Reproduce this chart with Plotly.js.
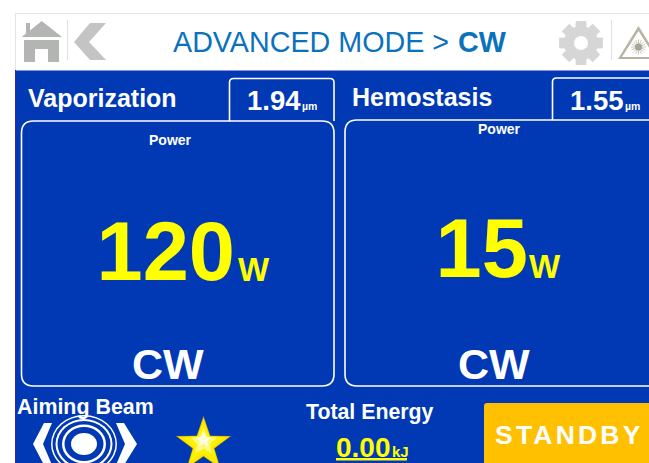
<!DOCTYPE html>
<html><head><meta charset="utf-8">
<script src="https://cdn.plot.ly/plotly-3.0.1.min.js"></script>
<style>
html,body{margin:0;padding:0;background:#fff;overflow:hidden}
#chart{width:649px;height:463px}
</style></head><body><div id="chart"></div>
<script>
// Chart content
const modeLabels = ["Vaporization", "Hemostasis"];
const powerValues = [120, 15];
const powerUnit = "W";
const wavelengths = ["1.94", "1.55"];
const wavelengthUnit = "µm";
const pulseModes = ["CW", "CW"];
const titleParts = ["ADVANCED MODE > ", "CW"];
const energyValue = "0.00";
const energyUnit = "kJ";
const buttonLabel = "STANDBY";

const FONT = '"Liberation Sans", Arial, sans-serif';
const BLUE = '#0039b3', WHITE = '#ffffff', YELLOW = '#ffff00';

const shapes = [];
const path = (d, fill, line, w) => shapes.push({type:'path', layer:'below', xref:'x', yref:'y', path:d,
  fillcolor: fill || 'rgba(0,0,0,0)', line:{color: line || 'rgba(0,0,0,0)', width: w || 0}});
const rect = (x0,y0,x1,y1,fill) => shapes.push({type:'rect', layer:'below', xref:'x', yref:'y', x0,y0,x1,y1, fillcolor:fill, line:{width:0}});
const ell = (cx,cy,rx,ry,fill) => shapes.push({type:'circle', layer:'below', xref:'x', yref:'y', x0:cx-rx,x1:cx+rx,y0:cy-ry,y1:cy+ry, fillcolor:fill, line:{width:0}});
const round = (x0,y0,x1,y1,r) => `M${x0+r},${y0} L${x1-r},${y0} Q${x1},${y0} ${x1},${y0+r} L${x1},${y1-r} Q${x1},${y1} ${x1-r},${y1} L${x0+r},${y1} Q${x0},${y1} ${x0},${y1-r} L${x0},${y0+r} Q${x0},${y0} ${x0+r},${y0} Z`;
const tab = (x0,y0,x1,y1,r) => `M${x0},${y1} L${x0},${y0+r} Q${x0},${y0} ${x0+r},${y0} L${x1-r},${y0} Q${x1},${y0} ${x1},${y0+r} L${x1},${y1}`;

// header and body
rect(15,13,649,70,'#ffffff');
rect(15,13,649,14,'#e4e4e4');
rect(15,13,16,70,'#e4e4e4');
rect(15,70,649,463,BLUE);
rect(15,70,649,71,'#8f8fe0');
rect(15,70,16,463,'#2a2ab5');

// home icon
path('M41.7,21 L62,37 L21.7,37 L26,33.6 L26,23 L30,23 L30,30.5 Z','#b3b5b3');
path('M24,40 L59,40 L59,62 L48,62 L48,49 L35,49 L35,62 L24,62 Z','#b3b5b3');
rect(67,20,68,60,'#e2e2e2');
path('M90,23 L106,23 L89,42 L106,60 L90,60 L74,42 Z','#c4c4c4');

// gear icon
(function(){
  const cx=581, cy=43, teeth=8; let d='';
  for(let i=0;i<teeth;i++){
    const a=i*2*Math.PI/teeth, s=0.24, t=0.33;
    const pts=[[17,a-t],[22.5,a-s],[22.5,a+s],[17,a+t]];
    pts.forEach((p,j)=>{d+=(i===0&&j===0?'M':'L')+(cx+p[0]*Math.sin(p[1])).toFixed(1)+','+(cy-p[0]*Math.cos(p[1])).toFixed(1)+' ';});
  }
  path(d+'Z','#d6d6d6');
  ell(cx,cy,7,7,'#ffffff');
})();
rect(611,20,612,60,'#e2e2e2');

// laser warning icon
path('M638.5,26 L659,59 L618,59 Z','#b8b3a5');
path('M638.5,31 L655,57 L622,57 Z','#ffffff');
(function(){
  const cx=638.5, cy=47; let d='';
  for(let i=0;i<16;i++){
    const a=i*Math.PI/8;
    d+=`M${(cx+3*Math.cos(a)).toFixed(1)},${(cy+3*Math.sin(a)).toFixed(1)} L${(cx+7.5*Math.cos(a)).toFixed(1)},${(cy+7.5*Math.sin(a)).toFixed(1)} `;
  }
  path(d,null,'#bdb9ac',0.8);
  ell(cx,cy,3.6,3.6,'#a8a496');
})();

// panels
const PW = 1.6;
path(tab(229.5,78.5,334,121,4),null,WHITE,PW);
path(round(21.5,121,334,386,12),null,WHITE,PW);
path(tab(552.5,78,690,120,4),null,WHITE,PW);
path(round(345,120,690,386,12),null,WHITE,PW);

// aiming beam
[[33,29,WHITE],[31.5,27.5,BLUE],[28.5,25,WHITE],[26.5,23,BLUE],[22,19.5,WHITE],[19.5,17,BLUE],[13,11,WHITE]].forEach(e=>ell(84,444,e[0],e[1],e[2]));
path('M44,423 L52,423 L43,444 L52,465 L44,465 L33,444 Z',WHITE);
path('M124,423 L116,423 L125,444 L116,465 L124,465 L137,444 Z',WHITE);

// star
(function(){
  const star=(cx,cy,R,r)=>{let d='';for(let i=0;i<10;i++){const a=i*Math.PI/5,q=i%2?r:R;d+=(i?'L':'M')+(cx+q*Math.sin(a)).toFixed(1)+','+(cy-q*Math.cos(a)).toFixed(1)+' ';}return d+'Z';};
  path(star(203.5,445,29,11.5),'#caa900');
  path(star(203.5,445,27,10.8),'#ffe600');
  path(star(203.5,444,22,9.5),'#fff200');
  path(star(203.5,442,14,6.5),'#fff980');
  path(star(203.5,440,8,4),'#fffdd8');
})();

// standby button
path(round(484,403,670,480,3),'#ffc000');

// underline for energy
rect(336,458,407,460.5,YELLOW);

// text
const annotations = [];
const T = (text,x,y,size,color,anchor,bold) => annotations.push({
  text: bold===false?text:`<b>${text}</b>`, x, y, xref:'x', yref:'y', showarrow:false,
  xanchor:anchor||'center', yanchor:'middle', align:'left',
  font:{family:FONT,size,color}, borderpad:0, borderwidth:0});

T(titleParts[0],173,42,28.7,'#0a72bd','left',false);
T(titleParts[1],458,42,28.7,'#0a72bd','left');

T(modeLabels[0],28,97.5,25,WHITE,'left');
T(modeLabels[1],352,97,25,WHITE,'left');
T(wavelengths[0],247,100.5,27.5,WHITE,'left');
T(wavelengthUnit,301.5,106,10.5,WHITE,'left');
T(wavelengths[1],570,100.5,27.5,WHITE,'left');
T(wavelengthUnit,624.5,106,10.5,WHITE,'left');
T('Power',170,139.5,14,WHITE);
T('Power',499.5,129,14,WHITE);
T(powerUnit,238,269,33,YELLOW,'left');
T(powerUnit,529,266,33,YELLOW,'left');
T(pulseModes[0],167.5,364,43,WHITE);
T(pulseModes[1],493.5,364,43,WHITE);
T('Aiming Beam',17,407,21.4,WHITE,'left');
T('Total Energy',306,411.5,21.3,WHITE,'left');
T(energyValue,336,447,28,YELLOW,'left');
T(energyUnit,392,451,15,YELLOW,'left');
T(buttonLabel,495,435,26.5,WHITE,'left');
const btnIndex = annotations.length-1;

const st=document.createElement('style');
st.textContent=`.annotation[data-index="${btnIndex}"] text{letter-spacing:3.2px}`;
document.head.appendChild(st);

const traces = [{
  type:'scatter', mode:'text', x:[96.5,435.5], y:[259,256],
  text:powerValues.map(v=>`<b>${v}</b>`), textposition:'middle right',
  textfont:{family:FONT,size:83,color:YELLOW}, hoverinfo:'skip', showlegend:false, cliponaxis:false
}];

Plotly.newPlot('chart',traces,{
  width:649,height:463,margin:{l:0,r:0,t:0,b:0,pad:0},
  paper_bgcolor:'#ffffff',plot_bgcolor:'rgba(0,0,0,0)',
  xaxis:{range:[0,649],visible:false,fixedrange:true},
  yaxis:{range:[463,0],visible:false,fixedrange:true},
  showlegend:false,shapes,annotations,hovermode:false
},{staticPlot:true,displayModeBar:false});
</script></body></html>
